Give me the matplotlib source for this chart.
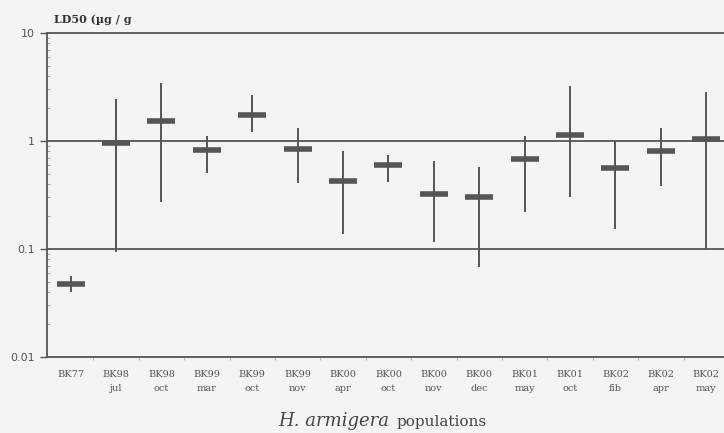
import matplotlib
matplotlib.use("Agg")
import matplotlib.pyplot as plt
import numpy as np
from matplotlib.ticker import FixedLocator, NullFormatter

pops = ["BK77", "BK98", "BK98", "BK99", "BK99", "BK99", "BK00", "BK00",
        "BK00", "BK00", "BK01", "BK01", "BK02", "BK02", "BK02"]
months = ["", "jul", "oct", "mar", "oct", "nov", "apr", "oct",
          "nov", "dec", "may", "oct", "fib", "apr", "may"]
ld50 = [0.047, 0.95, 1.54, 0.82, 1.75, 0.84, 0.43, 0.60,
        0.32, 0.30, 0.68, 1.14, 0.56, 0.81, 1.04]
ci_low = [0.040, 0.094, 0.27, 0.51, 1.22, 0.41, 0.138, 0.42,
          0.117, 0.068, 0.22, 0.30, 0.153, 0.38, 0.10]
ci_high = [0.056, 2.47, 3.41, 1.12, 2.69, 1.32, 0.81, 0.74,
           0.65, 0.58, 1.12, 3.24, 0.99, 1.31, 2.85]
yticks = [0.01, 0.1, 1, 10]
ytick_labels = ["0.01", "0.1", "1", "10"]

bg = "#f4f4f6"
ink = "#555555"

fig = plt.figure(figsize=(7.24, 4.33), dpi=100, facecolor=bg)
ax = fig.add_axes([0.065, 0.1755, 0.935, 0.7483], facecolor=bg)

x = np.arange(len(pops))
ld = np.array(ld50)
yerr = np.vstack([ld - np.array(ci_low), np.array(ci_high) - ld])
ax.errorbar(x, ld, yerr=yerr, fmt="none", ecolor=ink, elinewidth=1.4, capsize=0, zorder=3)
ax.plot(x, ld, linestyle="none", marker="_", markersize=20, markeredgewidth=4,
        color=ink, zorder=4)

ax.set_yscale("log")
ax.set_ylim(0.01, 10)
ax.set_xlim(-0.52, 14.39)

for yv in [0.1, 1]:
    ax.axhline(yv, color=ink, linewidth=1.3, zorder=1)

ax.yaxis.set_major_locator(FixedLocator(yticks))
ax.set_yticklabels(ytick_labels)
ax.yaxis.set_minor_formatter(NullFormatter())
ax.tick_params(axis="y", which="major", length=5, width=1, color=ink,
               labelsize=8, labelcolor=ink, pad=4)
ax.tick_params(axis="y", which="minor", length=2, width=0.6, color="#999999", direction="in")

ax.set_xticks(x)
ax.set_xticklabels([f"{p}\n{m}" for p, m in zip(pops, months)],
                   fontfamily="DejaVu Serif", fontsize=7, color=ink, linespacing=1.8)
ax.tick_params(axis="x", which="major", length=0, pad=9)
ax.set_xticks(x[:-1] + 0.5, minor=True)
ax.tick_params(axis="x", which="minor", length=2, width=0.8, color="#bbbbbb")

for s in ["left", "bottom", "top"]:
    ax.spines[s].set_color(ink)
    ax.spines[s].set_linewidth(1.3)
ax.spines["right"].set_visible(False)

fig.text(0.074, 0.947, "LD50 (\u00b5g / g", fontfamily="DejaVu Serif", fontweight="bold",
         fontsize=8, color="#333333", ha="left", va="baseline")

fig.text(0.384, 0.016, "H. armigera", fontfamily="DejaVu Serif", style="italic",
         fontsize=13, color="#444444", ha="left", va="baseline")
fig.text(0.548, 0.016, "populations", fontfamily="DejaVu Serif",
         fontsize=11, color="#444444", ha="left", va="baseline")

fig.savefig("out.png", dpi=100, facecolor=bg)
